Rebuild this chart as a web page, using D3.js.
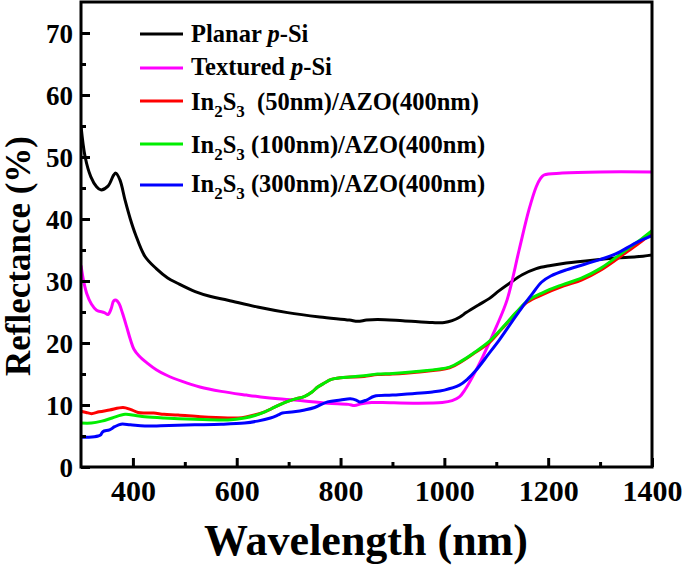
<!DOCTYPE html>
<html><head><meta charset="utf-8">
<script src="https://cdn.jsdelivr.net/npm/d3@7"></script>
<style>body{margin:0;background:#fff}svg{display:block}text{font-family:"Liberation Serif","Times New Roman",serif;font-weight:bold}</style>
</head><body>
<script>
const xTicks=[400,600,800,1000,1200,1400];
const yTicks=[0,10,20,30,40,50,60,70];
const planarWl=[300,308,319,330,338,352,363,367,375,385,395,405,423,445,467,487,520,550,583,640,698,760,817,833,850,871,920,977,1000,1015,1030,1042,1065,1087,1105,1125,1150,1177,1205,1235,1290,1331,1370,1400];
const planarR=[55,50,46.8,45.2,44.7,45.3,47.1,47.4,46.3,43,40,37.5,34,32,30.5,29.6,28.3,27.5,26.9,25.8,24.9,24.2,23.7,23.5,23.7,23.8,23.6,23.3,23.3,23.6,24.2,24.9,26.1,27.2,28.4,29.6,31,32,32.5,32.9,33.4,33.7,33.9,34.2];
const texWl=[300,305,311,320,330,345,352,358,363,368,373,380,388,395,402,412,427,445,465,495,529,570,619,646,680,712,775,815,827,840,860,881,940,996,1015,1029,1040,1054,1073,1100,1121,1144,1163,1177,1185,1192,1227,1300,1400];
const texR=[32.5,30,28,26.3,25.3,24.9,24.6,25.5,26.8,26.9,26.4,24.8,22.6,20.6,19.0,17.9,16.8,15.7,14.8,13.8,12.9,12.2,11.6,11.3,11.0,10.8,10.3,10.1,9.9,10.2,10.4,10.4,10.3,10.4,10.7,11.3,12.5,14.5,17.6,22.6,27,35,41.5,45.2,46.5,47.1,47.4,47.6,47.6];
const in50Wl=[300,310,320,335,355,381,395,410,423,440,460,487,530,583,610,630,654,672,692,710,731,745,756,770,781,800,819,845,871,900,946,1010,1035,1060,1087,1110,1138,1160,1189,1230,1265,1300,1350,1380,1400];
const in50R=[9.0,8.8,8.6,8.9,9.2,9.6,9.3,8.8,8.7,8.7,8.5,8.4,8.1,7.9,7.95,8.3,8.9,9.6,10.4,10.9,11.4,12.1,12.9,13.6,14.1,14.4,14.5,14.6,14.9,15.0,15.3,16.0,17.1,18.5,20.1,22.2,24.8,26.6,27.8,29.2,30.2,31.7,34.6,36.4,37.8];
const in100Wl=[300,320,340,360,385,405,423,460,519,583,615,635,654,672,692,710,731,745,756,770,781,800,819,845,871,900,946,1010,1035,1060,1087,1110,1138,1160,1189,1221,1265,1300,1350,1380,1400];
const in100R=[7.1,7.1,7.4,7.9,8.5,8.3,8.1,7.9,7.7,7.6,7.9,8.3,8.9,9.6,10.4,10.9,11.4,12.1,12.9,13.6,14.1,14.4,14.5,14.7,15.0,15.1,15.4,16.1,17.2,18.6,20.3,22.3,24.9,26.8,28.1,29.2,30.5,32,35,36.8,38.1];
const in300Wl=[300,315,333,338,342,355,365,377,395,423,470,519,570,615,640,665,680,688,710,731,750,775,800,819,830,837,850,865,900,977,1000,1029,1045,1061,1085,1106,1130,1150,1170,1187,1205,1235,1298,1331,1370,1400];
const in300R=[4.8,4.8,5.0,5.2,5.7,6.0,6.5,6.9,6.8,6.6,6.7,6.8,6.9,7.1,7.4,7.9,8.4,8.7,8.9,9.2,9.6,10.5,10.8,11.0,10.8,10.5,10.8,11.4,11.6,12.1,12.4,13.2,14.2,15.6,18.2,20.5,23.4,25.8,28,29.8,30.8,31.8,33.4,34.4,36.2,37.3];
const seriesNames=["Planar","Textured","In50","In100","In300"];
const seriesColors=["#000000","#ff00ff","#ff0000","#00ee00","#0000ff"];

const W=685,H=571,L=81,R=652,T=2,B=467;
const svg=d3.select("body").append("svg").attr("width",W).attr("height",H);
const x=d3.scaleLinear().domain([300,1400]).range([L,R]);
const y=d3.scaleLinear().domain([0,75]).range([B,T]);

const data=[[planarWl,planarR],[texWl,texR],[in50Wl,in50R],[in100Wl,in100R],[in300Wl,in300R]];
svg.append("clipPath").attr("id","c").append("rect").attr("x",L).attr("y",T).attr("width",R-L).attr("height",B-T);
const line=d3.line().x(d=>x(d[0])).y(d=>y(d[1])).curve(d3.curveCatmullRom.alpha(0.5));
[0,1,2,3,4].forEach(i=>{
  const pts=data[i][0].map((w,k)=>[w,data[i][1][k]]);
  svg.append("path").attr("d",line(pts)).attr("fill","none").attr("stroke",seriesColors[i]).attr("stroke-width",3).attr("stroke-linejoin","round").attr("clip-path","url(#c)");
});

const xAx=svg.append("g").attr("transform",`translate(0,${B})`)
  .call(d3.axisBottom(x).tickValues(xTicks).tickSize(-9).tickFormat(d3.format("d")).tickPadding(12));
const xMinor=svg.append("g").attr("transform",`translate(0,${B})`)
  .call(d3.axisBottom(x).tickValues([500,700,900,1100,1300]).tickSize(-5).tickFormat(""));
const yAx=svg.append("g").attr("transform",`translate(${L},0)`)
  .call(d3.axisLeft(y).tickValues(yTicks).tickSize(-9).tickFormat(d3.format("d")).tickPadding(8));
const yMinor=svg.append("g").attr("transform",`translate(${L},0)`)
  .call(d3.axisLeft(y).tickValues([5,15,25,35,45,55,65]).tickSize(-5).tickFormat(""));
[xAx,xMinor,yAx,yMinor].forEach(g=>{g.select(".domain").remove();g.selectAll(".tick line").attr("stroke","#000").attr("stroke-width",3);});
xAx.selectAll(".tick text").attr("font-size",30).attr("fill","#000").attr("dy","0.72em");
yAx.selectAll(".tick text").attr("font-size",27).attr("fill","#000").attr("dy","0.34em");
svg.append("rect").attr("x",L).attr("y",T).attr("width",R-L).attr("height",B-T).attr("fill","none").attr("stroke","#000").attr("stroke-width",3);

svg.append("text").attr("x",366).attr("y",555).attr("text-anchor","middle").attr("font-size",44).text("Wavelength (nm)");
svg.append("text").attr("transform","translate(30,256) rotate(-90)").attr("text-anchor","middle").attr("font-size",35).text("Reflectance (%)");

const legY=[34,68,101,144,185];
const legBase=[42,75,110,153,192];
const legSub=[null,null,["(50nm)/AZO(400nm)",true],["(100nm)/AZO(400nm)",false],["(300nm)/AZO(400nm)",false]];
for(let i=0;i<5;i++){
  svg.append("line").attr("x1",140).attr("x2",183).attr("y1",legY[i]).attr("y2",legY[i]).attr("stroke",seriesColors[i]).attr("stroke-width",3);
  const t=svg.append("text").attr("x",191).attr("y",legBase[i]).attr("font-size",24.5).attr("fill","#000");
  if(i===0){t.append("tspan").text("Planar ");t.append("tspan").attr("font-style","italic").text("p");t.append("tspan").text("-Si");}
  else if(i===1){t.append("tspan").text("Textured ");t.append("tspan").attr("font-style","italic").text("p");t.append("tspan").text("-Si");}
  else{
    t.append("tspan").text("In");
    t.append("tspan").attr("font-size",17).attr("dy",7).text("2");
    t.append("tspan").attr("dy",-7).text("S");
    t.append("tspan").attr("font-size",17).attr("dy",7).text("3");
    t.append("tspan").attr("dy",-7).text((legSub[i][1]?"\u00a0\u00a0":"\u00a0")+legSub[i][0]);
  }
}
</script>
</body></html>
